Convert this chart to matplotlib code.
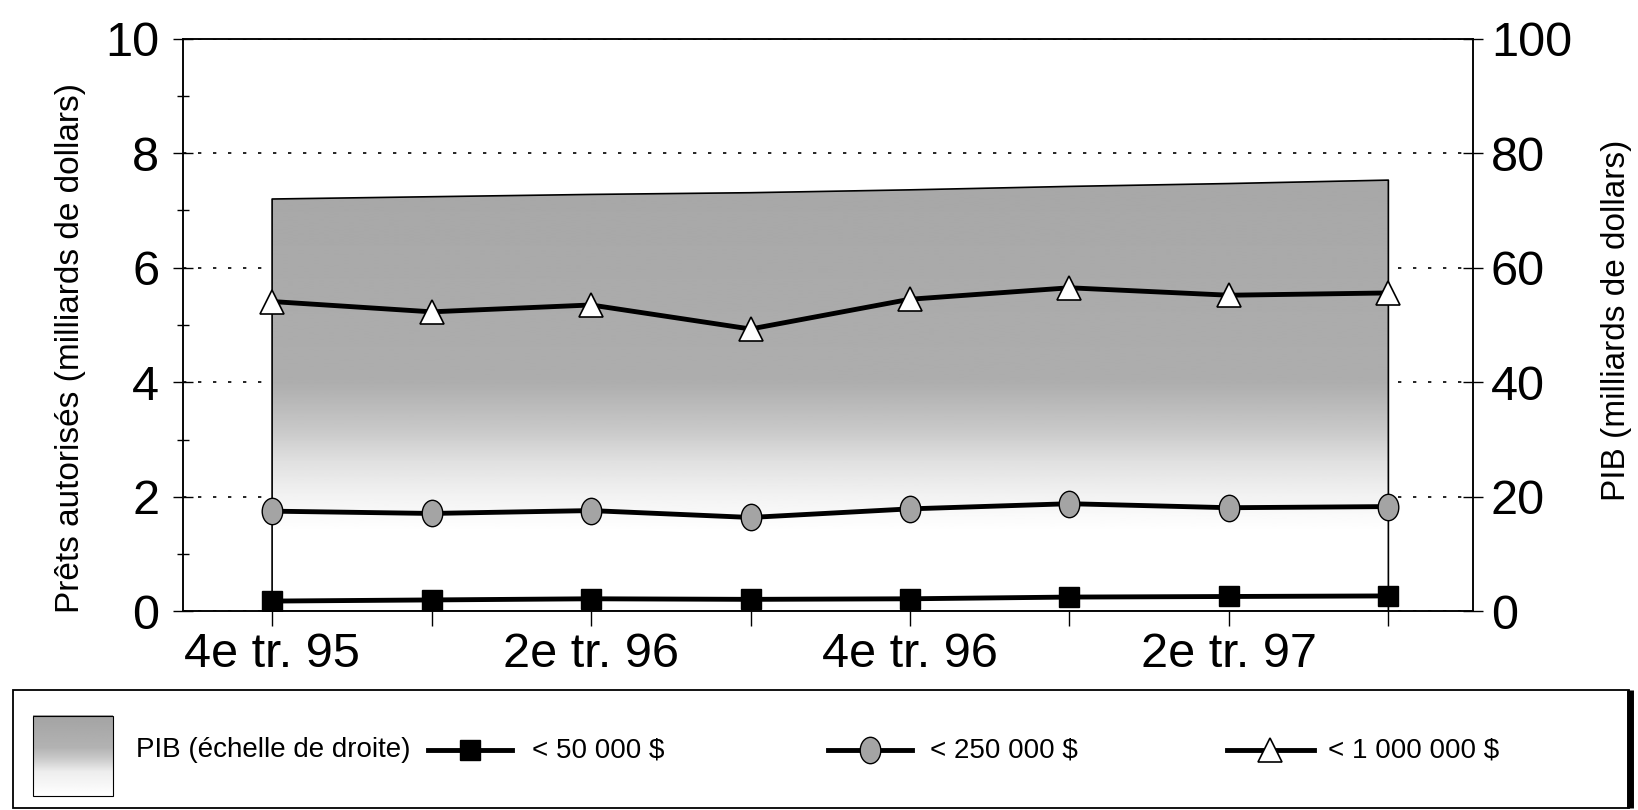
import matplotlib
matplotlib.use('Agg')
import matplotlib.pyplot as plt
import numpy as np
from matplotlib.path import Path
from matplotlib.patches import Rectangle

plt.rcParams['font.family'] = ['Liberation Sans', 'DejaVu Sans']

# Data
quarters = ['4e tr. 95', '1er tr. 96', '2e tr. 96', '3e tr. 96',
            '4e tr. 96', '1er tr. 97', '2e tr. 97', '3e tr. 97']
pib = [72.0, 72.4, 72.8, 73.1, 73.6, 74.2, 74.7, 75.3]          # right scale
prets_50k = [0.18, 0.20, 0.22, 0.21, 0.22, 0.25, 0.26, 0.27]
prets_250k = [1.75, 1.71, 1.76, 1.64, 1.79, 1.88, 1.81, 1.83]
prets_1m = [5.41, 5.23, 5.35, 4.93, 5.45, 5.65, 5.52, 5.56]

legend_labels = ['PIB (échelle de droite)', '< 50 000 $', '< 250 000 $', '< 1 000 000 $']

shown_labels = [q if i % 2 == 0 else '' for i, q in enumerate(quarters)]
x = np.arange(len(quarters))

# grey shading of the GDP area: dark at top, fading out toward the bottom
def shade_profile(n=400):
    yy = np.linspace(0, 100, n)
    return np.interp(yy, [0, 14, 20, 26, 32, 40, 100],
                     [1.0, 1.0, 0.95, 0.88, 0.78, 0.68, 0.64])

# ellipse marker for the < 250 000 $ series
circ = Path.unit_circle()
ellipse = Path(circ.vertices * np.array([0.78, 1.0]), circ.codes)

fig = plt.figure(figsize=(16.38, 8.1), dpi=100)
ax = fig.add_axes([0.1116, 0.2452, 0.7876, 0.7071])
ax2 = ax.twinx()
ax.set_zorder(ax2.get_zorder() + 1)
ax.patch.set_visible(False)

xlim = (-0.56, 7.53)

# GDP area on the right axis (behind)
img = ax2.imshow(shade_profile()[:, None], extent=[xlim[0], xlim[1], 0, 100],
                 origin='lower', aspect='auto', cmap='gray', vmin=0, vmax=1,
                 zorder=1, interpolation='bilinear')
area = ax2.fill_between(x, 0, pib, facecolor='none', edgecolor='black',
                        lw=1.2, zorder=1.2)
img.set_clip_path(area.get_paths()[0], transform=ax2.transData)

ax2.set_ylim(0, 100)
ax2.set_yticks(np.arange(0, 101, 20))
ax2.set_axisbelow(True)
ax2.yaxis.grid(True, linestyle=(0, (2, 7)), color='black', lw=1.2)
ax2.tick_params(axis='y', direction='inout', length=14, width=1,
                labelsize=35, pad=6)

# loan series on the left axis (front)
ax.plot(x, prets_50k, color='black', lw=3.5, marker='s', ms=14,
        mfc='black', mec='black', zorder=3)
ax.plot(x, prets_250k, color='black', lw=3.5, marker=ellipse, ms=19,
        mfc='#a4a4a4', mec='black', mew=1, zorder=3)
ax.plot(x, prets_1m, color='black', lw=3.5, marker='^', ms=17,
        mfc='white', mec='black', mew=1.2, zorder=3)

ax.set_xlim(*xlim)
ax2.set_xlim(*xlim)
ax.set_ylim(0, 10)
ax.set_xticks(x)
ax.set_xticklabels(shown_labels, fontsize=35)
ax.set_yticks(np.arange(0, 11, 2))
ax.set_yticks(np.arange(1, 10, 2), minor=True)
ax.tick_params(axis='x', direction='out', length=11, width=1, pad=4)
ax.tick_params(axis='y', which='major', direction='inout', length=14,
               width=1, labelsize=35, pad=10)
ax.tick_params(axis='y', which='minor', direction='inout', length=8, width=1)
for a in (ax, ax2):
    for s in a.spines.values():
        s.set_linewidth(1.1)

fig.text(0.043, 0.570, 'Prêts autorisés (milliards de dollars)', rotation=90,
         ha='center', va='center', fontsize=24)
fig.text(0.987, 0.605, 'PIB (milliards de dollars)', rotation=90,
         ha='center', va='center', fontsize=24)

# legend box drawn by hand below the plot
lax = fig.add_axes([0, 0, 1, 1])
lax.set_xlim(0, 1)
lax.set_ylim(0, 1)
lax.axis('off')
lax.add_patch(Rectangle((0.0077, 0.003), 0.987, 0.1455, fill=False,
                        lw=1.3, ec='black'))
lax.plot([0.995, 0.995], [0.003, 0.1485], color='black', lw=5,
         solid_capstyle='butt')

ly = 0.0735
patch_prof = np.interp(np.linspace(0, 1, 100), [0, 0.3, 0.45, 0.6, 1],
                       [1.0, 0.93, 0.8, 0.7, 0.64])
lax.imshow(patch_prof[:, None], extent=[0.0204, 0.0689, 0.0168, 0.1161],
           origin='lower', aspect='auto', cmap='gray', vmin=0, vmax=1)
lax.add_patch(Rectangle((0.0204, 0.0168), 0.0485, 0.0993, fill=False,
                        lw=0.8, ec='black'))
lax.set_xlim(0, 1)
lax.set_ylim(0, 1)
lax.text(0.0829, ly, legend_labels[0], fontsize=20, va='center')

handles = [
    (0.2615, 0.3125, dict(marker='s', ms=14, mfc='black', mec='black')),
    (0.5057, 0.5568, dict(marker=ellipse, ms=19, mfc='#a4a4a4', mec='black', mew=1)),
    (0.7490, 0.8020, dict(marker='^', ms=17, mfc='white', mec='black', mew=1.2)),
]
text_x = [0.325, 0.5676, 0.811]
for (a, b, style), tx, lab in zip(handles, text_x, legend_labels[1:]):
    lax.plot([a, (a + b) / 2, b], [ly] * 3, color='black', lw=3.5,
             markevery=[1], **style)
    lax.text(tx, ly, lab, fontsize=20, va='center')

fig.savefig('out.png', dpi=100)
